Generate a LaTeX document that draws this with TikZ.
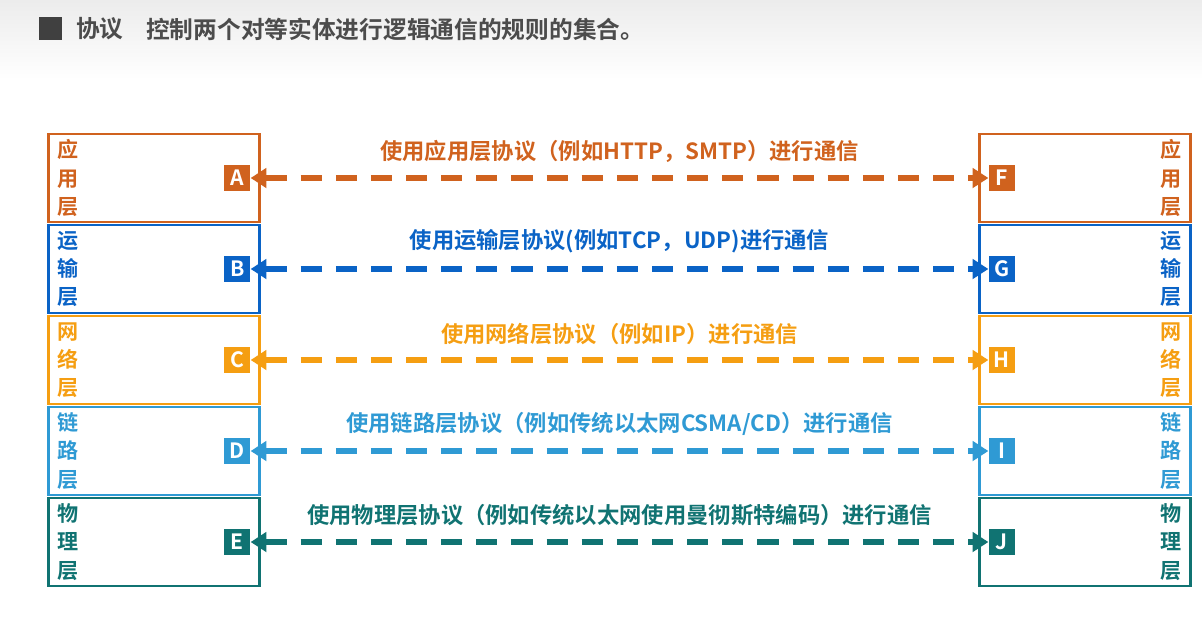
\documentclass[tikz,border=0pt]{standalone}
\usepackage{fontspec}
\setmainfont{Noto Sans CJK SC Bold}
\usetikzlibrary{positioning,arrows.meta}
\definecolor{cApp}{HTML}{D0621E}
\definecolor{cTra}{HTML}{0A63C6}
\definecolor{cNet}{HTML}{F59E12}
\definecolor{cLnk}{HTML}{2F9AD4}
\definecolor{cPhy}{HTML}{107372}
\tikzset{
    LB/.style ={rectangle,draw=#1,line width=1.3pt,minimum width=211*0.02cm,minimum height=88*0.02cm,inner sep=0pt},
    TX/.style ={text=#1,font=\fontsize{12pt}{16pt}\selectfont,align=left,text width=14pt},
    SQ/.style ={rectangle,fill=#1,text=white,minimum size=26*0.02cm,inner sep=0pt,font=\fontsize{12pt}{12pt}\selectfont},
    AR/.style ={draw=#1,line width=3.2pt,dash pattern=on 12pt off 8pt,{Triangle[length=9pt,width=11pt]}-{Triangle[length=9pt,width=11pt]}},
    LA/.style ={text=#1,font=\fontsize{12.7pt}{14pt}\selectfont,above=4pt}
}
\begin{document}
\begin{tikzpicture}[x=0.02cm,y=-0.02cm]
    \useasboundingbox (0,0) rectangle (1202,632);
    \shade[top color=gray!15,bottom color=white] (0,0) rectangle (1202,80);
    \fill[black!75] (39,17) rectangle (62,40);
    \node[anchor=west,text=black!70,font=\fontsize{13.5pt}{15pt}\selectfont] (ti) at (70,29) {协议};
    \node[anchor=west,text=black!70,font=\fontsize{13.5pt}{15pt}\selectfont] (td) at (140,29) {控制两个对等实体进行逻辑通信的规则的集合。};
    % layers
    \foreach \i/\c/\la/\lb/\a/\b/\t in {
        0/cApp/A/F/应/用/{使用应用层协议（例如HTTP，SMTP）进行通信},
        1/cTra/B/G/运/输/{使用运输层协议(例如TCP，UDP)进行通信},
        2/cNet/C/H/网/络/{使用网络层协议（例如IP）进行通信},
        3/cLnk/D/I/链/路/{使用链路层协议（例如传统以太网CSMA/CD）进行通信},
        4/cPhy/E/J/物/理/{使用物理层协议（例如传统以太网使用曼彻斯特编码）进行通信}}{
        \pgfmathsetmacro\yy{178+\i*91}
        \node[LB=\c] (l\i) at (154,\yy) {};
        \node[LB=\c] (r\i) at (1085,\yy) {};
        \node[TX=\c,anchor=west] at ([xshift=2pt]l\i.west) {\a\\\b\\层};
        \node[TX=\c,anchor=east,align=right] at ([xshift=-2pt]r\i.east) {\a\\\b\\层};
        \node[SQ=\c,anchor=east] (s\la) at ([xshift=-10*0.02cm]l\i.east) {\la};
        \node[SQ=\c,anchor=west] (s\lb) at ([xshift=10*0.02cm]r\i.west) {\lb};
        \draw[AR=\c] (s\la.east) -- node[LA=\c]{\t} (s\lb.west);
    }
\end{tikzpicture}
\end{document}
